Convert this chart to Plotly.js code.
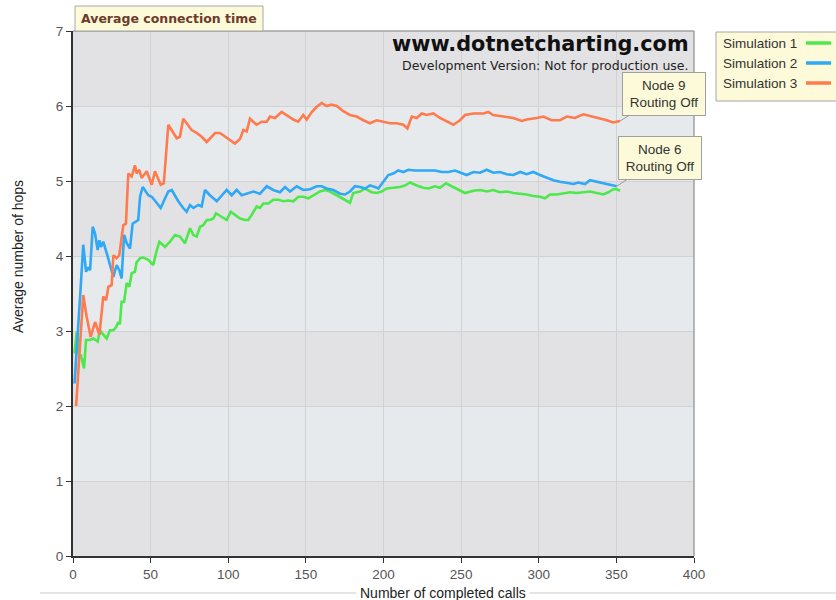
<!DOCTYPE html>
<html>
<head>
<meta charset="utf-8">
<script src="https://cdn.plot.ly/plotly-3.0.1.min.js"></script>
<style>html,body{margin:0;padding:0;background:#fff;}#chart{width:836px;height:600px;}</style>
</head>
<body>
<div id="chart"></div>
<script>
// ---- data ----
const seriesNames = ["Simulation 1", "Simulation 2", "Simulation 3"];
const seriesColors = ["#4ce84c", "#2fa8f6", "#ff7a4c"];

const sim1X = [1,2.4,4.1,5.2,7.1,8.4,11,13.1,15.9,17.4,19.5,21.7,23.8,26,27.7,29.2,30.2,31.3,32.9,34.6,36.3,37.8,39.9,41,43.2,45.3,48.5,50.7,51.7,53.5,55.6,57.8,59.3,62.5,65.7,68.9,72.1,75.4,77.5,79.7,81.8,83.9,86.1,88.2,90.4,92.1,95.8,99,101.6,104.3,107.6,110.8,112.9,115.1,118.3,120.4,122.6,125.9,129,132.3,135.5,138.7,141.9,145.1,148.3,151.6,154.8,157,159.1,162.3,165.5,169.9,174.1,178.4,180.5,184.9,188.1,192.4,195.6,198.8,202.1,206.3,210.6,213.8,217.1,221.4,225.6,228.9,233.2,236.4,240.3,243.9,248.2,252.5,257.9,262.2,266.5,270.7,275,279.4,283.6,288,292.2,296.5,300.8,304,307.3,311.6,315.9,320.2,324.5,328.7,333,337.3,341.6,344.8,348,350.2,352.4];
const sim1Y = [2.7,2.99,2.66,2.67,2.50,2.88,2.88,2.90,2.86,3.01,2.95,2.90,3.01,3.01,3.05,3.12,3.09,3.39,3.39,3.64,3.59,3.77,3.79,3.92,3.97,3.98,3.95,3.91,3.88,4.04,4.19,4.15,4.12,4.19,4.28,4.26,4.17,4.37,4.28,4.26,4.39,4.41,4.48,4.48,4.50,4.57,4.52,4.48,4.59,4.55,4.50,4.48,4.48,4.55,4.66,4.64,4.70,4.70,4.75,4.75,4.73,4.74,4.73,4.79,4.79,4.77,4.81,4.84,4.86,4.88,4.86,4.81,4.76,4.71,4.84,4.86,4.90,4.85,4.84,4.86,4.90,4.91,4.92,4.94,4.98,4.94,4.91,4.90,4.93,4.91,4.97,4.93,4.88,4.84,4.87,4.88,4.86,4.88,4.85,4.86,4.84,4.83,4.82,4.80,4.79,4.77,4.82,4.82,4.84,4.85,4.84,4.85,4.86,4.84,4.82,4.85,4.89,4.89,4.87];

const sim2X = [1,3,5,6.6,8.4,9.9,11,12.7,14.2,15.9,17,18,19.5,21.7,23.8,26,28.1,29.8,31.3,32.9,34.6,36.7,38.4,40.6,42,43.2,44.9,48.5,50.7,53.5,56.5,59.3,61.4,63.6,65.7,67.8,71,73.2,75.4,77.5,80.7,82.9,85,88.2,92.6,95.8,99,102.2,105.4,108.7,111.9,116.1,120.4,124.8,129,133.3,136.6,139.8,144.1,148.3,152.7,157,160.2,163.4,167.7,172,175.2,178.4,181.6,184.9,188.1,191.3,194.5,196.7,199.9,203.1,206.3,209.5,212.8,216,220.3,224.6,228.9,233.2,237.5,241.8,246,250.4,253.6,257.9,262.2,266.5,270.7,275,279.4,283.6,288,292.2,296.5,300.8,305.1,309.4,313.7,318,322.3,325.5,329.8,333,337.3,341.6,345.9,350.2];
const sim2Y = [2.3,2.9,3.6,4.15,3.79,3.85,3.81,4.39,4.30,4.08,4.21,4.12,4.19,4.04,3.87,3.72,3.88,3.81,3.70,4.28,4.17,4.10,4.43,4.46,4.48,4.79,4.92,4.81,4.79,4.72,4.64,4.77,4.86,4.88,4.80,4.73,4.64,4.59,4.68,4.64,4.68,4.66,4.88,4.81,4.73,4.81,4.88,4.81,4.88,4.81,4.83,4.86,4.83,4.93,4.88,4.85,4.92,4.86,4.93,4.88,4.89,4.93,4.93,4.90,4.88,4.83,4.82,4.86,4.93,4.92,4.90,4.94,4.92,4.90,4.99,5.08,5.10,5.14,5.12,5.15,5.14,5.14,5.15,5.14,5.12,5.12,5.14,5.11,5.08,5.12,5.11,5.15,5.11,5.12,5.09,5.08,5.12,5.09,5.12,5.08,5.04,5.01,4.99,4.97,4.96,4.98,4.96,5.01,4.99,4.97,4.95,4.93];

const sim3X = [2,6.6,8.8,11.4,14.2,17,19.5,21.3,22.8,24.9,26,28.1,29.8,31.3,32.4,34.1,35.6,37.8,39.9,41,42.7,44.2,47.5,50.7,52.8,56.5,58.5,61.4,64.6,66.8,68.9,71,73.2,76.4,79.7,82.9,86.1,88.2,91.5,94.7,97.9,101,104.3,107.6,109.7,111.9,114,116.1,118.3,121.5,124.8,126.9,130.1,134.4,138.7,141.9,145.1,148.3,150.5,153.8,157,160.2,163.4,166.6,169.9,174.1,178.4,182.7,187,191.3,195.6,199.9,204.2,208.5,212.8,215.4,218.2,221.4,224.6,227.8,232.1,236.4,240.7,245,249.3,252.5,257.9,264.3,267.5,270.7,277.2,283.6,289,292.2,298.7,302.9,308.3,313.7,318,323.3,328.7,333,337.3,343.8,348,352.3];
const sim3Y = [2.0,3.48,3.19,2.92,3.12,2.95,3.46,3.41,3.59,3.61,4.01,3.97,4.01,4.28,4.41,4.43,5.10,5.06,5.21,5.10,5.15,5.04,5.13,4.95,5.13,4.95,4.97,5.75,5.64,5.57,5.59,5.83,5.77,5.68,5.64,5.59,5.52,5.57,5.64,5.64,5.59,5.55,5.50,5.56,5.68,5.66,5.83,5.79,5.75,5.79,5.79,5.86,5.84,5.92,5.86,5.82,5.79,5.88,5.82,5.92,5.99,6.04,6.00,6.02,6.00,5.93,5.88,5.86,5.81,5.77,5.81,5.79,5.77,5.77,5.75,5.70,5.86,5.84,5.90,5.88,5.90,5.84,5.79,5.75,5.81,5.88,5.90,5.90,5.92,5.88,5.86,5.84,5.80,5.82,5.84,5.86,5.81,5.81,5.86,5.84,5.89,5.87,5.84,5.81,5.78,5.80];

const xTickVals = [0,50,100,150,200,250,300,350,400];
const yTickVals = [0,1,2,3,4,5,6,7];
const chartTitle = "Average connection time";
const xTitle = "Number of completed calls";
const yTitle = "Average number of hops";
const watermark = "www.dotnetcharting.com";
const watermarkSub = "Development Version: Not for production use.";
const callouts = [
  {text: "Node 9<br>Routing Off", series: 2},
  {text: "Node 6<br>Routing Off", series: 1}
];

// ---- layout helpers (pixel -> paper) ----
const W = 836, H = 600, ML = 73, MR = 142, MT = 31, MB = 44;
const PW = W - ML - MR, PH = H - MT - MB;
const px = p => (p - ML) / PW;
const py = p => (H - MB - p) / PH;

const xs = [sim1X, sim2X, sim3X];
const ys = [sim1Y, sim2Y, sim3Y];

const traces = seriesNames.map((n, i) => ({
  type: "scatter", mode: "lines", name: n,
  x: xs[i], y: ys[i],
  line: {color: seriesColors[i], width: 2.6},
  showlegend: false, hoverinfo: "skip"
}));

const shapes = [];
// alternating bands
[1, 3, 5].forEach(b => shapes.push({type: "rect", xref: "x", yref: "y", x0: 0, x1: 400, y0: b, y1: b + 1,
  fillcolor: "#e7eaed", line: {width: 0}, layer: "below"}));
// top & right border
shapes.push({type: "line", xref: "paper", yref: "paper", x0: 0, x1: 1, y0: 1, y1: 1, line: {color: "#a0a0a0", width: 1.5}});
shapes.push({type: "line", xref: "paper", yref: "paper", x0: 1, x1: 1, y0: 0, y1: 1, line: {color: "#a0a0a0", width: 1.5}});
// title box
shapes.push({type: "rect", xref: "paper", yref: "paper", x0: px(75), x1: px(263), y0: py(31), y1: py(6),
  fillcolor: "#fcfad8", line: {color: "#a8a8a8", width: 1}});
// legend box
shapes.push({type: "rect", xref: "paper", yref: "paper", x0: px(716), x1: px(850), y0: py(101), y1: py(32),
  fillcolor: "#fcfad8", line: {color: "#a8a8a8", width: 1}});
// bottom separator line
shapes.push({type: "line", xref: "paper", yref: "paper", x0: px(40), x1: px(836), y0: py(593), y1: py(593),
  line: {color: "#dcdcdc", width: 1.5}});

const annotations = [];
annotations.push({xref: "paper", yref: "paper", x: px(80), y: py(18.5), xanchor: "left", yanchor: "middle",
  text: "<b>" + chartTitle + "</b>", showarrow: false, borderpad: 0,
  font: {family: "DejaVu Sans", size: 12.5, color: "#6e3b2a"}});
annotations.push({xref: "paper", yref: "paper", x: px(690), y: py(56.5), xanchor: "right", yanchor: "bottom",
  text: "<b>" + watermark + "</b>", showarrow: false, borderpad: 0,
  font: {family: "DejaVu Sans", size: 20.8, color: "#111"}});
annotations.push({xref: "paper", yref: "paper", x: px(690), y: py(56.5), xanchor: "right", yanchor: "top",
  text: watermarkSub, showarrow: false, borderpad: 0,
  font: {family: "DejaVu Sans", size: 12.5, color: "#222"}});
// legend entries
seriesNames.forEach((n, i) => {
  const yy = 43 + i * 20;
  annotations.push({xref: "paper", yref: "paper", x: px(721), y: py(yy), xanchor: "left", yanchor: "middle",
    text: n, showarrow: false, font: {family: "Liberation Sans", size: 13.5, color: "#333"}});
  shapes.push({type: "line", xref: "paper", yref: "paper", x0: px(806), x1: px(831), y0: py(yy), y1: py(yy),
    line: {color: seriesColors[i], width: 3.5}});
});
// axis titles
annotations.push({xref: "paper", yref: "paper", x: px(443), y: py(593), xanchor: "center", yanchor: "middle",
  text: xTitle, showarrow: false, bgcolor: "#ffffff", borderpad: 3,
  font: {family: "Liberation Sans", size: 14, color: "#222"}});
annotations.push({xref: "paper", yref: "paper", x: px(18), y: py(257), xanchor: "center", yanchor: "middle",
  text: yTitle, showarrow: false, textangle: -90,
  font: {family: "Liberation Sans", size: 14, color: "#222"}});
// callouts at series ends
const offsets = [[44, -27], [43, -28]];
callouts.forEach((c, k) => {
  const sx = xs[c.series], sy = ys[c.series];
  annotations.push({x: sx[sx.length - 1], y: sy[sy.length - 1], xref: "x", yref: "y",
    text: c.text, showarrow: true, arrowhead: 0, arrowcolor: "#999", arrowwidth: 1,
    ax: offsets[k][0], ay: offsets[k][1], width: 74, height: 34, borderpad: 4,
    bgcolor: "#fcfad8", bordercolor: "#a0a0a0", borderwidth: 1, align: "center",
    font: {family: "Liberation Sans", size: 13.5, color: "#333"}});
});

const layout = {
  width: W, height: H,
  margin: {l: ML, r: MR, t: MT, b: MB, pad: 0},
  paper_bgcolor: "#ffffff", plot_bgcolor: "#e2e2e4",
  showlegend: false,
  xaxis: {range: [0, 400], tickvals: xTickVals, ticks: "outside", ticklen: 5, tickcolor: "#333", tickwidth: 1,
    showline: true, linecolor: "#333", linewidth: 2, gridcolor: "#d2d2d4", gridwidth: 1, zeroline: false,
    tickfont: {family: "Liberation Sans", size: 13.5, color: "#555"}, fixedrange: true},
  yaxis: {range: [0, 7], tickvals: yTickVals, ticks: "outside", ticklen: 5, tickcolor: "#333", tickwidth: 1,
    showline: true, linecolor: "#333", linewidth: 2, gridcolor: "#d2d2d4", gridwidth: 1, zeroline: false,
    tickfont: {family: "Liberation Sans", size: 13.5, color: "#555"}, fixedrange: true},
  shapes: shapes, annotations: annotations, hovermode: false
};

Plotly.newPlot("chart", traces, layout, {displayModeBar: false, staticPlot: true});
</script>
</body>
</html>
